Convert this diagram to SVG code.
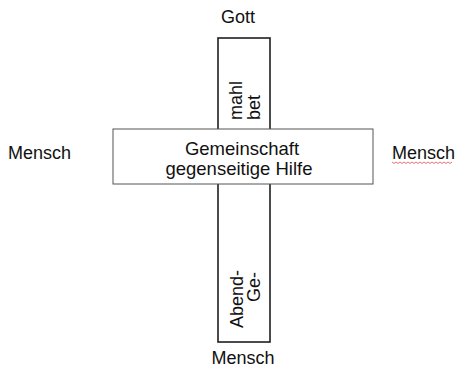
<svg xmlns="http://www.w3.org/2000/svg" width="457" height="367" viewBox="0 0 457 367">
<style>
text{font-family:"Liberation Sans",Arial,sans-serif;font-size:18px;fill:#111}
.mid{text-anchor:middle}
.end{text-anchor:end}
.big{font-size:18.5px}
</style>
<rect width="457" height="367" fill="#fff"/>
<g id="vertical-bar">
<rect x="218" y="38" width="52" height="304" fill="#fff" stroke="#111" stroke-width="1.5"/>
<text transform="translate(242,120) rotate(-90)">mahl</text>
<text transform="translate(260,120) rotate(-90)">bet</text>
<text transform="translate(243,328) rotate(-90)">Abend-</text>
<text transform="translate(260,302) rotate(-90)">Ge-</text>
</g>
<g id="horizontal-box">
<rect x="113" y="129" width="260" height="55" fill="#fff" stroke="#555" stroke-width="1"/>
<text class="mid big" x="242" y="155">Gemeinschaft</text>
<text class="mid big" x="239" y="175">gegenseitige Hilfe</text>
</g>
<g id="gott"><text class="mid" x="238" y="23">Gott</text></g>
<g id="mensch-left"><text x="8" y="159">Mensch</text></g>
<g id="mensch-right"><text x="392" y="159">Mensch</text>
<path d="M392,162 l2,1.5 l2,-1.5 l2,1.5 l2,-1.5 l2,1.5 l2,-1.5 l2,1.5 l2,-1.5 l2,1.5 l2,-1.5 l2,1.5 l2,-1.5 l2,1.5 l2,-1.5 l2,1.5 l2,-1.5 l2,1.5 l2,-1.5 l2,1.5 l2,-1.5 l2,1.5 l2,-1.5 l2,1.5 l2,-1.5 l2,1.5 l2,-1.5 l2,1.5 l2,-1.5 l2,1.5 l2,-1.5" fill="none" stroke="#e05050" stroke-width="0.8"/></g>
<g id="mensch-bottom"><text class="mid" x="243" y="364">Mensch</text></g>
<g id="connectors"/>
</svg>
